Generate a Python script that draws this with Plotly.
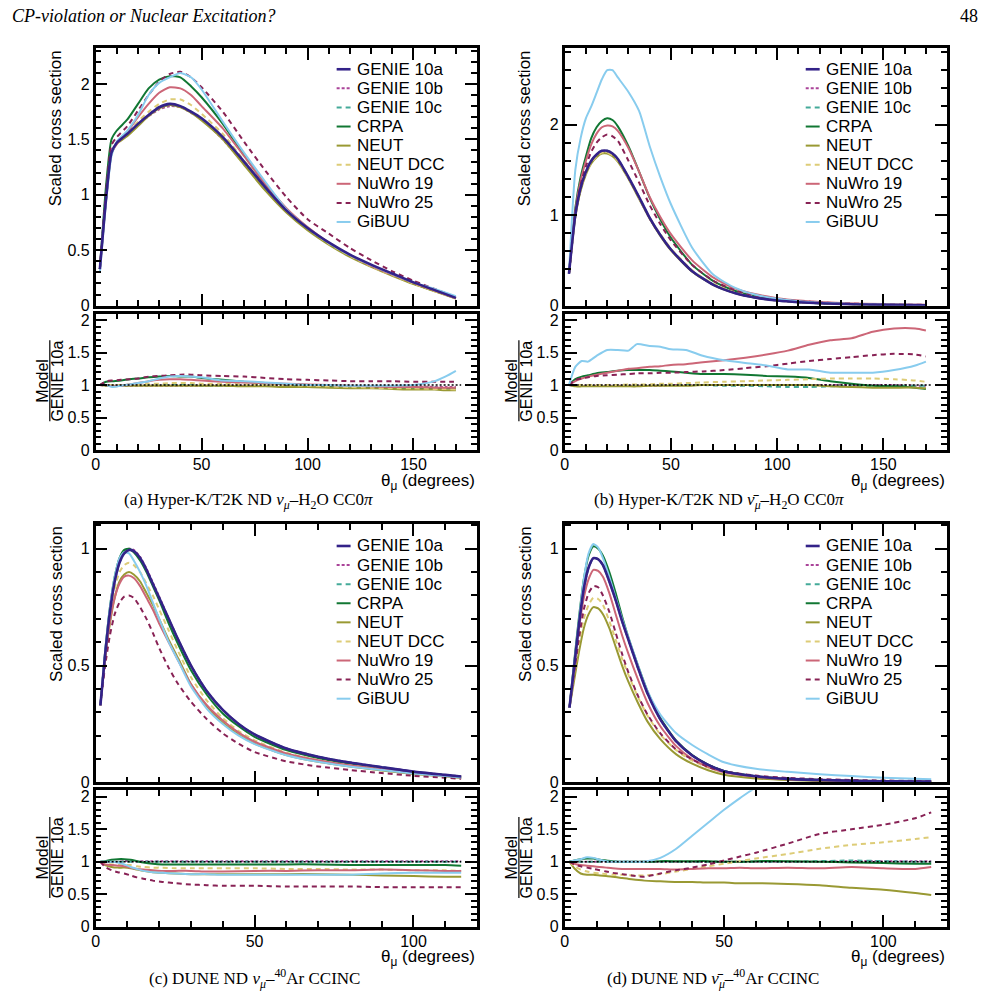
import plotly.graph_objects as go

W, H = 983, 1006

NAMES = ["GENIE 10a", "GENIE 10b", "GENIE 10c", "CRPA", "NEUT", "NEUT DCC", "NuWro 19", "NuWro 25", "GiBUU"]
COLORS = ["#332288", "#AA4499", "#44AA99", "#117733", "#999933", "#DDCC77", "#CC6677", "#882255", "#88CCEE"]
DASHES = ["solid", "3px,2px", "5px,4px", "solid", "solid", "5px,4px", "solid", "5px,4px", "solid"]
WIDTHS = [2.6, 2, 2, 2, 2, 2, 2, 2, 2]

# ---------------- Panel (a): Hyper-K/T2K ND numu H2O CC0pi ----------------
A_X = [2, 5, 7.5, 10, 15, 20, 25, 30, 35, 40, 45, 50, 60, 70, 80, 90, 100, 110, 120, 130, 140, 150, 160, 170]
A_MAIN_GENIE10A = [0.33, 0.98, 1.38, 1.47, 1.55, 1.64, 1.72, 1.79, 1.82, 1.80, 1.75, 1.69, 1.52, 1.30, 1.07, 0.86, 0.70, 0.57, 0.46, 0.37, 0.29, 0.21, 0.14, 0.07]
A_MAIN_GENIE10B = [0.33, 0.97, 1.37, 1.46, 1.54, 1.63, 1.71, 1.77, 1.80, 1.79, 1.74, 1.68, 1.50, 1.28, 1.06, 0.85, 0.69, 0.56, 0.45, 0.36, 0.28, 0.205, 0.135, 0.068]
A_MAIN_GENIE10C = [0.33, 0.98, 1.38, 1.47, 1.55, 1.64, 1.72, 1.79, 1.81, 1.80, 1.75, 1.68, 1.51, 1.29, 1.06, 0.85, 0.69, 0.56, 0.45, 0.36, 0.28, 0.20, 0.135, 0.067]
A_MAIN_CRPA = [0.33, 1.10, 1.50, 1.58, 1.68, 1.82, 1.96, 2.04, 2.07, 2.06, 1.98, 1.88, 1.64, 1.36, 1.10, 0.87, 0.70, 0.565, 0.45, 0.36, 0.28, 0.20, 0.133, 0.066]
A_MAIN_NEUT = [0.33, 0.97, 1.37, 1.46, 1.53, 1.62, 1.71, 1.78, 1.81, 1.79, 1.74, 1.67, 1.50, 1.27, 1.04, 0.84, 0.68, 0.55, 0.44, 0.35, 0.27, 0.195, 0.13, 0.064]
A_MAIN_NEUTDCC = [0.33, 0.97, 1.37, 1.46, 1.55, 1.66, 1.75, 1.82, 1.86, 1.86, 1.81, 1.73, 1.55, 1.31, 1.08, 0.86, 0.70, 0.56, 0.45, 0.355, 0.275, 0.20, 0.13, 0.065]
A_MAIN_NUWRO19 = [0.33, 0.98, 1.38, 1.46, 1.57, 1.70, 1.82, 1.92, 1.97, 1.96, 1.90, 1.80, 1.60, 1.35, 1.10, 0.88, 0.71, 0.57, 0.455, 0.36, 0.28, 0.205, 0.135, 0.067]
A_MAIN_NUWRO25 = [0.33, 1.05, 1.45, 1.52, 1.62, 1.76, 1.90, 2.02, 2.09, 2.11, 2.06, 1.97, 1.75, 1.48, 1.22, 0.98, 0.78, 0.65, 0.52, 0.41, 0.31, 0.225, 0.15, 0.075]
A_MAIN_GIBUU = [0.30, 0.95, 1.35, 1.48, 1.58, 1.72, 1.90, 2.01, 2.06, 2.10, 2.06, 1.95, 1.66, 1.38, 1.12, 0.87, 0.70, 0.565, 0.455, 0.365, 0.285, 0.21, 0.15, 0.085]

A_RX = [2, 5, 8, 12, 16, 20, 25, 30, 35, 40, 45, 50, 60, 70, 80, 90, 100, 110, 120, 130, 140, 150, 160, 165, 170]
A_RATIO_GENIE10B = [1.0, 0.99, 0.99, 0.99, 0.99, 0.99, 0.99, 0.99, 0.99, 0.99, 0.99, 0.99, 0.99, 0.99, 0.99, 0.99, 0.99, 0.99, 0.98, 0.98, 0.98, 0.98, 0.97, 0.97, 0.97]
A_RATIO_GENIE10C = [1.0, 1.0, 1.0, 1.0, 1.0, 1.0, 1.0, 1.0, 1.0, 1.0, 1.0, 0.99, 0.99, 0.99, 0.99, 0.98, 0.98, 0.98, 0.97, 0.97, 0.96, 0.96, 0.96, 0.95, 0.95]
A_RATIO_CRPA = [1.0, 1.05, 1.06, 1.07, 1.09, 1.10, 1.12, 1.13, 1.14, 1.13, 1.13, 1.11, 1.08, 1.05, 1.03, 1.01, 1.0, 0.99, 0.98, 0.97, 0.96, 0.96, 0.95, 0.95, 0.95]
A_RATIO_NEUT = [1.0, 0.99, 0.99, 0.99, 0.99, 0.99, 0.99, 0.99, 0.99, 0.99, 0.99, 0.99, 0.99, 0.98, 0.98, 0.97, 0.97, 0.96, 0.95, 0.95, 0.94, 0.93, 0.93, 0.92, 0.92]
A_RATIO_NEUTDCC = [1.0, 1.0, 1.0, 1.0, 1.01, 1.01, 1.02, 1.02, 1.03, 1.03, 1.03, 1.02, 1.02, 1.01, 1.0, 1.0, 0.99, 0.98, 0.97, 0.96, 0.95, 0.95, 0.94, 0.94, 0.93]
A_RATIO_NUWRO19 = [1.0, 1.0, 0.98, 0.99, 1.01, 1.03, 1.06, 1.08, 1.09, 1.09, 1.08, 1.07, 1.05, 1.04, 1.03, 1.02, 1.01, 1.0, 0.99, 0.98, 0.97, 0.97, 0.96, 0.96, 0.96]
A_RATIO_NUWRO25 = [1.0, 1.06, 1.07, 1.08, 1.09, 1.10, 1.13, 1.14, 1.15, 1.16, 1.16, 1.15, 1.14, 1.13, 1.11, 1.09, 1.08, 1.07, 1.06, 1.06, 1.06, 1.05, 1.05, 1.05, 1.05]
A_RATIO_GIBUU = [1.0, 1.0, 0.97, 0.99, 1.01, 1.03, 1.06, 1.10, 1.13, 1.14, 1.13, 1.12, 1.07, 1.06, 1.04, 1.02, 1.0, 1.0, 0.99, 0.99, 0.99, 1.0, 1.06, 1.13, 1.22]

# ---------------- Panel (b): Hyper-K/T2K ND numubar H2O CC0pi ----------------
B_X = [2, 5, 7.5, 10, 12.5, 15, 17.5, 20, 22.5, 25, 30, 35, 40, 45, 50, 60, 70, 80, 90, 100, 110, 120, 140, 160, 170]
B_MAIN_GENIE10A = [0.35, 1.00, 1.30, 1.48, 1.60, 1.67, 1.71, 1.71, 1.68, 1.62, 1.42, 1.20, 0.97, 0.78, 0.62, 0.38, 0.23, 0.14, 0.088, 0.057, 0.038, 0.026, 0.013, 0.007, 0.005]
B_MAIN_GENIE10B = [0.35, 0.99, 1.29, 1.47, 1.59, 1.66, 1.70, 1.70, 1.67, 1.61, 1.41, 1.19, 0.96, 0.78, 0.62, 0.38, 0.23, 0.14, 0.088, 0.057, 0.038, 0.026, 0.013, 0.007, 0.005]
B_MAIN_GENIE10C = [0.35, 1.00, 1.30, 1.48, 1.60, 1.67, 1.71, 1.71, 1.68, 1.62, 1.42, 1.20, 0.97, 0.78, 0.62, 0.38, 0.23, 0.14, 0.087, 0.056, 0.037, 0.025, 0.013, 0.007, 0.005]
B_MAIN_CRPA = [0.35, 1.08, 1.42, 1.65, 1.85, 1.97, 2.04, 2.07, 2.05, 1.98, 1.76, 1.48, 1.19, 0.95, 0.75, 0.45, 0.27, 0.165, 0.10, 0.065, 0.043, 0.029, 0.013, 0.007, 0.005]
B_MAIN_NEUT = [0.35, 0.98, 1.27, 1.45, 1.57, 1.64, 1.68, 1.68, 1.65, 1.59, 1.40, 1.18, 0.96, 0.77, 0.61, 0.375, 0.228, 0.14, 0.088, 0.057, 0.038, 0.026, 0.0125, 0.0067, 0.0048]
B_MAIN_NEUTDCC = [0.35, 0.99, 1.28, 1.46, 1.58, 1.65, 1.69, 1.69, 1.66, 1.60, 1.41, 1.19, 0.97, 0.79, 0.63, 0.39, 0.24, 0.148, 0.095, 0.062, 0.042, 0.029, 0.014, 0.0077, 0.0053]
B_MAIN_NUWRO19 = [0.35, 1.05, 1.38, 1.60, 1.78, 1.90, 1.97, 1.99, 1.98, 1.93, 1.74, 1.48, 1.20, 0.98, 0.79, 0.50, 0.31, 0.19, 0.125, 0.083, 0.057, 0.041, 0.022, 0.013, 0.009]
B_MAIN_NUWRO25 = [0.35, 1.02, 1.34, 1.54, 1.70, 1.80, 1.86, 1.89, 1.87, 1.82, 1.60, 1.36, 1.11, 0.90, 0.72, 0.45, 0.275, 0.17, 0.11, 0.073, 0.05, 0.035, 0.019, 0.011, 0.008]
B_MAIN_GIBUU = [0.35, 1.50, 1.85, 2.07, 2.20, 2.35, 2.50, 2.60, 2.60, 2.52, 2.36, 2.15, 1.76, 1.42, 1.12, 0.64, 0.34, 0.20, 0.12, 0.075, 0.048, 0.032, 0.016, 0.009, 0.007]

B_RX = [2, 5, 8, 11, 15, 20, 25, 30, 34, 40, 45, 50, 57, 65, 75, 85, 95, 105, 115, 125, 135, 145, 155, 165, 170]
B_RATIO_GENIE10B = [1.0, 0.99, 0.99, 0.99, 0.99, 0.99, 0.99, 0.99, 0.99, 0.99, 0.99, 1.0, 1.0, 1.0, 1.0, 1.0, 1.0, 1.0, 1.0, 1.0, 1.0, 1.0, 1.0, 0.99, 0.99]
B_RATIO_GENIE10C = [1.0, 1.0, 1.0, 1.0, 1.0, 1.0, 1.0, 1.0, 1.0, 1.0, 1.0, 1.0, 1.0, 1.0, 0.99, 0.99, 0.98, 0.97, 0.97, 0.98, 0.98, 0.99, 0.99, 0.99, 0.99]
B_RATIO_CRPA = [1.0, 1.09, 1.13, 1.15, 1.18, 1.20, 1.22, 1.23, 1.23, 1.23, 1.22, 1.21, 1.19, 1.17, 1.17, 1.16, 1.14, 1.13, 1.11, 1.06, 1.02, 0.99, 0.98, 0.96, 0.94]
B_RATIO_NEUT = [1.0, 0.98, 0.98, 0.98, 0.98, 0.98, 0.98, 0.98, 0.98, 0.99, 0.99, 0.99, 0.99, 1.0, 1.0, 1.0, 1.0, 1.0, 1.0, 0.98, 0.97, 0.96, 0.96, 0.96, 0.95]
B_RATIO_NEUTDCC = [1.0, 1.0, 1.0, 1.0, 1.0, 1.0, 1.0, 1.01, 1.01, 1.01, 1.02, 1.02, 1.03, 1.04, 1.05, 1.06, 1.07, 1.08, 1.09, 1.10, 1.10, 1.10, 1.09, 1.07, 1.05]
B_RATIO_NUWRO19 = [1.0, 1.06, 1.10, 1.13, 1.16, 1.19, 1.22, 1.25, 1.26, 1.28, 1.29, 1.31, 1.32, 1.35, 1.38, 1.42, 1.47, 1.53, 1.62, 1.69, 1.72, 1.82, 1.87, 1.87, 1.84]
B_RATIO_NUWRO25 = [1.0, 1.08, 1.10, 1.12, 1.14, 1.15, 1.16, 1.17, 1.18, 1.18, 1.19, 1.19, 1.20, 1.21, 1.23, 1.26, 1.29, 1.33, 1.37, 1.40, 1.43, 1.46, 1.48, 1.47, 1.44]
B_RATIO_GIBUU = [1.0, 1.28, 1.37, 1.36, 1.45, 1.54, 1.54, 1.53, 1.63, 1.60, 1.59, 1.55, 1.54, 1.45, 1.38, 1.34, 1.30, 1.24, 1.24, 1.19, 1.19, 1.19, 1.23, 1.30, 1.36]

# ---------------- Panel (c): DUNE ND numu 40Ar CCINC ----------------
C_X = [1.5, 3, 4.5, 6, 7.5, 9, 10.5, 12, 14, 16, 18, 20, 23, 26, 30, 35, 40, 45, 50, 60, 70, 80, 90, 100, 110, 115]
C_MAIN_GENIE10A = [0.33, 0.55, 0.73, 0.86, 0.94, 0.98, 0.995, 0.99, 0.96, 0.91, 0.85, 0.79, 0.70, 0.61, 0.50, 0.39, 0.31, 0.25, 0.205, 0.145, 0.11, 0.085, 0.065, 0.046, 0.032, 0.025]
C_MAIN_GENIE10B = [0.33, 0.55, 0.73, 0.86, 0.94, 0.985, 1.0, 0.995, 0.965, 0.915, 0.855, 0.795, 0.70, 0.61, 0.50, 0.39, 0.31, 0.25, 0.205, 0.145, 0.11, 0.085, 0.065, 0.046, 0.032, 0.025]
C_MAIN_GENIE10C = [0.33, 0.55, 0.73, 0.86, 0.94, 0.98, 0.995, 0.99, 0.96, 0.91, 0.85, 0.79, 0.70, 0.61, 0.50, 0.39, 0.31, 0.25, 0.205, 0.145, 0.11, 0.085, 0.065, 0.046, 0.032, 0.025]
C_MAIN_CRPA = [0.33, 0.56, 0.75, 0.88, 0.96, 0.995, 1.0, 0.985, 0.95, 0.90, 0.84, 0.78, 0.68, 0.59, 0.48, 0.375, 0.295, 0.24, 0.195, 0.138, 0.104, 0.08, 0.062, 0.044, 0.031, 0.024]
C_MAIN_NEUT = [0.33, 0.53, 0.68, 0.79, 0.86, 0.89, 0.90, 0.89, 0.86, 0.81, 0.76, 0.70, 0.61, 0.53, 0.42, 0.325, 0.255, 0.205, 0.166, 0.117, 0.088, 0.068, 0.051, 0.036, 0.025, 0.019]
C_MAIN_NEUTDCC = [0.33, 0.54, 0.71, 0.83, 0.90, 0.93, 0.94, 0.93, 0.90, 0.85, 0.80, 0.74, 0.65, 0.56, 0.45, 0.35, 0.275, 0.22, 0.18, 0.127, 0.095, 0.073, 0.056, 0.039, 0.027, 0.021]
C_MAIN_NUWRO19 = [0.33, 0.53, 0.69, 0.79, 0.85, 0.88, 0.885, 0.875, 0.84, 0.79, 0.74, 0.68, 0.60, 0.52, 0.42, 0.33, 0.265, 0.213, 0.174, 0.124, 0.095, 0.073, 0.057, 0.040, 0.028, 0.022]
C_MAIN_NUWRO25 = [0.33, 0.50, 0.63, 0.72, 0.77, 0.795, 0.80, 0.79, 0.75, 0.70, 0.64, 0.575, 0.49, 0.42, 0.345, 0.27, 0.21, 0.165, 0.13, 0.09, 0.068, 0.053, 0.04, 0.028, 0.02, 0.015]
C_MAIN_GIBUU = [0.33, 0.56, 0.75, 0.88, 0.96, 0.985, 0.98, 0.95, 0.90, 0.84, 0.77, 0.70, 0.60, 0.52, 0.41, 0.315, 0.25, 0.20, 0.164, 0.116, 0.088, 0.068, 0.053, 0.038, 0.027, 0.021]

C_RX = [1.5, 3, 5, 7, 9, 11, 13, 15, 18, 21, 25, 30, 35, 40, 50, 60, 70, 80, 90, 100, 110, 115]
C_RATIO_GENIE10B = [1.0, 1.0, 1.0, 1.0, 1.01, 1.01, 1.01, 1.01, 1.01, 1.01, 1.01, 1.01, 1.01, 1.01, 1.01, 1.01, 1.01, 1.01, 1.01, 1.01, 1.01, 1.01]
C_RATIO_GENIE10C = [1.0, 1.0, 1.0, 1.0, 1.0, 1.0, 1.0, 1.0, 1.0, 1.0, 1.0, 1.0, 1.0, 1.0, 1.0, 1.0, 1.0, 1.0, 1.0, 1.0, 1.0, 1.0]
C_RATIO_CRPA = [1.0, 1.01, 1.03, 1.04, 1.04, 1.03, 1.01, 0.99, 0.97, 0.96, 0.96, 0.96, 0.96, 0.96, 0.96, 0.96, 0.96, 0.95, 0.95, 0.95, 0.95, 0.94]
C_RATIO_NEUT = [1.0, 0.95, 0.92, 0.91, 0.91, 0.90, 0.88, 0.86, 0.84, 0.83, 0.82, 0.81, 0.81, 0.81, 0.81, 0.81, 0.81, 0.80, 0.79, 0.78, 0.77, 0.77]
C_RATIO_NEUTDCC = [1.0, 0.97, 0.96, 0.95, 0.95, 0.95, 0.93, 0.92, 0.91, 0.91, 0.90, 0.90, 0.90, 0.90, 0.90, 0.89, 0.89, 0.88, 0.88, 0.87, 0.87, 0.86]
C_RATIO_NUWRO19 = [1.0, 0.96, 0.95, 0.94, 0.93, 0.91, 0.89, 0.88, 0.87, 0.86, 0.86, 0.86, 0.85, 0.85, 0.86, 0.86, 0.87, 0.87, 0.88, 0.87, 0.86, 0.86]
C_RATIO_NUWRO25 = [1.0, 0.92, 0.87, 0.84, 0.82, 0.79, 0.76, 0.74, 0.71, 0.69, 0.67, 0.65, 0.64, 0.63, 0.63, 0.62, 0.62, 0.62, 0.61, 0.61, 0.61, 0.61]
C_RATIO_GIBUU = [1.0, 1.0, 1.0, 0.99, 0.96, 0.92, 0.89, 0.86, 0.84, 0.83, 0.82, 0.81, 0.81, 0.80, 0.80, 0.80, 0.80, 0.80, 0.82, 0.83, 0.83, 0.83]

# ---------------- Panel (d): DUNE ND numubar 40Ar CCINC ----------------
D_X = [1.5, 3, 4.5, 6, 7.5, 9, 10.5, 12, 14, 16, 18, 20, 23, 26, 30, 35, 40, 45, 50, 60, 70, 80, 90, 100, 110, 115]
D_MAIN_GENIE10A = [0.32, 0.50, 0.68, 0.83, 0.92, 0.96, 0.955, 0.93, 0.86, 0.78, 0.69, 0.61, 0.49, 0.38, 0.27, 0.175, 0.115, 0.075, 0.048, 0.026, 0.015, 0.010, 0.007, 0.005, 0.004, 0.0035]
D_MAIN_GENIE10B = [0.32, 0.50, 0.68, 0.83, 0.92, 0.96, 0.955, 0.93, 0.86, 0.78, 0.69, 0.61, 0.49, 0.38, 0.27, 0.175, 0.115, 0.075, 0.048, 0.026, 0.015, 0.010, 0.007, 0.005, 0.004, 0.0035]
D_MAIN_GENIE10C = [0.32, 0.50, 0.68, 0.83, 0.92, 0.96, 0.955, 0.93, 0.86, 0.78, 0.69, 0.61, 0.49, 0.38, 0.27, 0.175, 0.115, 0.075, 0.048, 0.026, 0.015, 0.010, 0.007, 0.005, 0.004, 0.0035]
D_MAIN_CRPA = [0.32, 0.52, 0.71, 0.87, 0.97, 1.01, 1.0, 0.97, 0.90, 0.81, 0.71, 0.62, 0.50, 0.39, 0.275, 0.178, 0.117, 0.076, 0.049, 0.026, 0.015, 0.010, 0.007, 0.005, 0.004, 0.0034]
D_MAIN_NEUT = [0.32, 0.44, 0.56, 0.66, 0.72, 0.75, 0.745, 0.72, 0.66, 0.58, 0.50, 0.43, 0.34, 0.26, 0.185, 0.12, 0.08, 0.052, 0.033, 0.017, 0.010, 0.0064, 0.0042, 0.0029, 0.0021, 0.0017]
D_MAIN_NEUTDCC = [0.32, 0.46, 0.60, 0.70, 0.76, 0.79, 0.785, 0.76, 0.69, 0.61, 0.53, 0.46, 0.365, 0.285, 0.205, 0.138, 0.093, 0.063, 0.045, 0.025, 0.016, 0.011, 0.008, 0.006, 0.005, 0.0048]
D_MAIN_NUWRO19 = [0.32, 0.49, 0.66, 0.79, 0.87, 0.91, 0.905, 0.88, 0.81, 0.72, 0.63, 0.55, 0.44, 0.34, 0.24, 0.155, 0.10, 0.067, 0.043, 0.024, 0.0135, 0.009, 0.0063, 0.0045, 0.0036, 0.0032]
D_MAIN_NUWRO25 = [0.32, 0.47, 0.62, 0.74, 0.81, 0.84, 0.835, 0.80, 0.73, 0.64, 0.55, 0.47, 0.37, 0.29, 0.21, 0.14, 0.098, 0.066, 0.047, 0.029, 0.019, 0.014, 0.0105, 0.0078, 0.0066, 0.0062]
D_MAIN_GIBUU = [0.32, 0.51, 0.70, 0.87, 0.98, 1.02, 1.005, 0.96, 0.88, 0.79, 0.70, 0.62, 0.50, 0.39, 0.29, 0.21, 0.16, 0.12, 0.086, 0.058, 0.045, 0.035, 0.027, 0.02, 0.015, 0.013]

D_RX = [1.5, 3, 5, 7, 9, 11, 13, 15, 18, 21, 25, 30, 35, 40, 45, 50, 55, 60, 70, 80, 90, 100, 110, 115]
D_RATIO_GENIE10B = [1.0, 1.0, 1.0, 1.0, 1.0, 1.0, 1.0, 1.0, 1.0, 1.0, 1.0, 1.0, 1.0, 1.0, 1.0, 1.0, 1.0, 1.0, 1.0, 1.0, 1.01, 1.01, 1.01, 1.01]
D_RATIO_GENIE10C = [1.0, 1.0, 1.0, 1.0, 1.0, 1.0, 1.0, 1.0, 1.0, 1.0, 1.0, 1.0, 1.0, 1.0, 1.0, 1.0, 1.0, 1.0, 1.0, 1.01, 1.02, 1.01, 1.0, 1.0]
D_RATIO_CRPA = [1.0, 1.02, 1.04, 1.05, 1.05, 1.03, 1.02, 1.01, 1.0, 1.0, 1.0, 1.01, 1.01, 1.01, 1.01, 1.0, 1.0, 1.01, 1.01, 1.0, 0.99, 0.98, 0.97, 0.97]
D_RATIO_NEUT = [1.0, 0.90, 0.82, 0.80, 0.80, 0.79, 0.78, 0.77, 0.75, 0.73, 0.71, 0.70, 0.69, 0.69, 0.68, 0.68, 0.67, 0.67, 0.66, 0.64, 0.60, 0.57, 0.52, 0.49]
D_RATIO_NEUTDCC = [1.0, 0.93, 0.88, 0.85, 0.83, 0.82, 0.81, 0.80, 0.80, 0.79, 0.79, 0.81, 0.85, 0.89, 0.93, 0.97, 1.01, 1.05, 1.12, 1.20, 1.26, 1.30, 1.35, 1.38]
D_RATIO_NUWRO19 = [1.0, 0.97, 0.95, 0.94, 0.93, 0.92, 0.91, 0.90, 0.89, 0.89, 0.89, 0.89, 0.88, 0.89, 0.90, 0.90, 0.91, 0.90, 0.91, 0.90, 0.92, 0.90, 0.89, 0.92]
D_RATIO_NUWRO25 = [1.0, 0.96, 0.93, 0.91, 0.89, 0.87, 0.85, 0.83, 0.81, 0.79, 0.77, 0.82, 0.87, 0.91, 0.96, 1.02, 1.08, 1.14, 1.28, 1.43, 1.50, 1.57, 1.67, 1.76]
D_RATIO_GIBUU = [1.0, 1.02, 1.04, 1.07, 1.06, 1.03, 1.01, 1.0, 1.0, 1.0, 1.0, 1.06, 1.2, 1.4, 1.6, 1.8, 1.98, 2.15, 2.5, 2.9, 3.3, 3.7, 4.0, 4.2]

CAPTIONS = [
    "(a) Hyper-K/T2K ND <i>ν<sub>μ</sub></i>–H<sub>2</sub>O CC0<i>π</i>",
    "(b) Hyper-K/T2K ND <i>ν̄<sub>μ</sub></i>–H<sub>2</sub>O CC0<i>π</i>",
    "(c) DUNE ND <i>ν<sub>μ</sub></i>–<sup>40</sup>Ar CCINC",
    "(d) DUNE ND <i>ν̄<sub>μ</sub></i>–<sup>40</sup>Ar CCINC",
]

A_MAIN = [A_MAIN_GENIE10A, A_MAIN_GENIE10B, A_MAIN_GENIE10C, A_MAIN_CRPA, A_MAIN_NEUT, A_MAIN_NEUTDCC, A_MAIN_NUWRO19, A_MAIN_NUWRO25, A_MAIN_GIBUU]
B_MAIN = [B_MAIN_GENIE10A, B_MAIN_GENIE10B, B_MAIN_GENIE10C, B_MAIN_CRPA, B_MAIN_NEUT, B_MAIN_NEUTDCC, B_MAIN_NUWRO19, B_MAIN_NUWRO25, B_MAIN_GIBUU]
C_MAIN = [C_MAIN_GENIE10A, C_MAIN_GENIE10B, C_MAIN_GENIE10C, C_MAIN_CRPA, C_MAIN_NEUT, C_MAIN_NEUTDCC, C_MAIN_NUWRO19, C_MAIN_NUWRO25, C_MAIN_GIBUU]
D_MAIN = [D_MAIN_GENIE10A, D_MAIN_GENIE10B, D_MAIN_GENIE10C, D_MAIN_CRPA, D_MAIN_NEUT, D_MAIN_NEUTDCC, D_MAIN_NUWRO19, D_MAIN_NUWRO25, D_MAIN_GIBUU]
A_RATIO = [None, A_RATIO_GENIE10B, A_RATIO_GENIE10C, A_RATIO_CRPA, A_RATIO_NEUT, A_RATIO_NEUTDCC, A_RATIO_NUWRO19, A_RATIO_NUWRO25, A_RATIO_GIBUU]
B_RATIO = [None, B_RATIO_GENIE10B, B_RATIO_GENIE10C, B_RATIO_CRPA, B_RATIO_NEUT, B_RATIO_NEUTDCC, B_RATIO_NUWRO19, B_RATIO_NUWRO25, B_RATIO_GIBUU]
C_RATIO = [None, C_RATIO_GENIE10B, C_RATIO_GENIE10C, C_RATIO_CRPA, C_RATIO_NEUT, C_RATIO_NEUTDCC, C_RATIO_NUWRO19, C_RATIO_NUWRO25, C_RATIO_GIBUU]
D_RATIO = [None, D_RATIO_GENIE10B, D_RATIO_GENIE10C, D_RATIO_CRPA, D_RATIO_NEUT, D_RATIO_NEUTDCC, D_RATIO_NUWRO19, D_RATIO_NUWRO25, D_RATIO_GIBUU]

# ---------------- layout helpers (pixel geometry) ----------------
SANS = "Liberation Sans, Arial, Helvetica, sans-serif"
SERIF = "Liberation Serif, Times New Roman, serif"


def fx(px):
    return px / W


def fy(py):
    return 1 - py / H


PANELS = [
    dict(n=1, left=92, right=475, mtop=47, mbot=307, rtop=315, rbot=453, xmax=180, ymax=2.32, ydt=0.5, ymin=0.1,
         x=A_X, main=A_MAIN, rx=A_RX, ratio=A_RATIO, refend=172.5, leg_x=334, leg_y=68, cap_x=245),
    dict(n=3, left=563, right=947, mtop=47, mbot=307, rtop=315, rbot=453, xmax=180, ymax=2.84, ydt=1, ymin=0.2,
         x=B_X, main=B_MAIN, rx=B_RX, ratio=B_RATIO, refend=172.5, leg_x=805, leg_y=68, cap_x=718),
    dict(n=5, left=92, right=475, mtop=528, mbot=789, rtop=797, rbot=935, xmax=120, ymax=1.105, ydt=0.5, ymin=0.1,
         x=C_X, main=C_MAIN, rx=C_RX, ratio=C_RATIO, refend=115, leg_x=334, leg_y=550, cap_x=252),
    dict(n=7, left=563, right=947, mtop=528, mbot=789, rtop=797, rbot=935, xmax=120, ymax=1.105, ydt=0.5, ymin=0.1,
         x=D_X, main=D_MAIN, rx=D_RX, ratio=D_RATIO, refend=115, leg_x=805, leg_y=550, cap_x=712),
]


def axis_common(rng, dtick, minor_dtick, showlabels, domain, anchor, standoff=None):
    d = dict(
        domain=domain, range=rng, anchor=anchor, dtick=dtick, tick0=0,
        ticks="inside", ticklen=12, tickwidth=1.8, tickcolor="black",
        minor=dict(ticks="inside", ticklen=6, dtick=minor_dtick, tickwidth=1.5, tickcolor="black", showgrid=False),
        mirror="allticks", showline=True, linewidth=2.6, linecolor="black",
        showgrid=False, zeroline=False, showticklabels=showlabels,
        tickfont=dict(family=SANS, size=16, color="black"), fixedrange=True,
    )
    if standoff is not None:
        d["ticklabelstandoff"] = standoff
    return d


fig = go.Figure()
layout = dict(width=W, height=H, margin=dict(l=0, r=0, t=0, b=0), paper_bgcolor="white", plot_bgcolor="white",
              showlegend=False)
shapes = []
annotations = []

order = [1, 2, 3, 4, 5, 6, 7, 8, 0]

for p in PANELS:
    nm, nr = p["n"], p["n"] + 1
    xm = "x" if nm == 1 else f"x{nm}"
    ym = "y" if nm == 1 else f"y{nm}"
    xr, yr = f"x{nr}", f"y{nr}"
    xdom = [fx(p["left"]), fx(p["right"])]
    layout["xaxis" if nm == 1 else f"xaxis{nm}"] = axis_common([0, p["xmax"]], 50, 10, False, xdom, ym)
    layout["yaxis" if nm == 1 else f"yaxis{nm}"] = axis_common([0, p["ymax"]], p["ydt"], p["ymin"], True,
                                                              [fy(p["mbot"]), fy(p["mtop"])], xm)
    layout[f"xaxis{nr}"] = axis_common([0, p["xmax"]], 50, 10, True, xdom, yr, standoff=-2)
    layout[f"yaxis{nr}"] = axis_common([0, 2.1], 0.5, 0.1, True, [fy(p["rbot"]), fy(p["rtop"])], xr)

    for i in order:
        fig.add_trace(go.Scatter(
            x=p["x"], y=p["main"][i], mode="lines", name=NAMES[i], xaxis=xm, yaxis=ym,
            line=dict(color=COLORS[i], width=WIDTHS[i], dash=DASHES[i], shape="spline", smoothing=0.6),
            hoverinfo="skip"))
    for i in order:
        if p["ratio"][i] is None:
            continue
        fig.add_trace(go.Scatter(
            x=p["rx"], y=p["ratio"][i], mode="lines", name=NAMES[i], xaxis=xr, yaxis=yr,
            line=dict(color=COLORS[i], width=WIDTHS[i], dash=DASHES[i], shape="spline", smoothing=0.6),
            hoverinfo="skip"))
    # unity reference line in ratio panel
    shapes.append(dict(type="line", xref=xr, yref=yr, x0=0, x1=p["refend"], y0=1, y1=1,
                       line=dict(color="black", width=1.5, dash="2px,2px"), layer="above"))

    # custom legend
    for k, name in enumerate(NAMES):
        yy = p["leg_y"] + k * 19.3
        shapes.append(dict(type="line", xref="paper", yref="paper", x0=fx(p["leg_x"]), x1=fx(p["leg_x"] + 14),
                           y0=fy(yy), y1=fy(yy), line=dict(color=COLORS[k], width=WIDTHS[k], dash=DASHES[k])))
        annotations.append(dict(text=name, x=fx(p["leg_x"] + 18), y=fy(yy), xref="paper", yref="paper",
                                xanchor="left", yanchor="middle", showarrow=False,
                                font=dict(family=SANS, size=17, color="black")))

    # main y title
    annotations.append(dict(text="Scaled cross section", textangle=-90, x=fx(p["left"] - 40), y=fy(p["mtop"]),
                            xref="paper", yref="paper", xanchor="center", yanchor="top", showarrow=False,
                            font=dict(family=SANS, size=17, color="black")))
    # ratio y title (fraction)
    rc = p["rtop"] + 68
    annotations.append(dict(text="Model", textangle=-90, x=fx(p["left"] - 53), y=fy(rc),
                            xref="paper", yref="paper", xanchor="center", yanchor="middle", showarrow=False,
                            font=dict(family=SANS, size=16, color="black")))
    annotations.append(dict(text="GENIE 10a", textangle=-90, x=fx(p["left"] - 38), y=fy(rc),
                            xref="paper", yref="paper", xanchor="center", yanchor="middle", showarrow=False,
                            font=dict(family=SANS, size=16, color="black")))
    shapes.append(dict(type="line", xref="paper", yref="paper", x0=fx(p["left"] - 46), x1=fx(p["left"] - 46),
                       y0=fy(rc - 41), y1=fy(rc + 41), line=dict(color="black", width=1.2)))
    # x title
    annotations.append(dict(text="θ<sub>μ</sub> (degrees)", x=fx(p["right"]), y=fy(p["rbot"] + 32),
                            xref="paper", yref="paper", xanchor="right", yanchor="middle", showarrow=False,
                            font=dict(family=SANS, size=17, color="black")))
    # caption
    annotations.append(dict(text=CAPTIONS[(p["n"] - 1) // 2], x=fx(p["cap_x"]), y=fy(p["rbot"] + 52),
                            xref="paper", yref="paper", xanchor="center", yanchor="middle", showarrow=False,
                            font=dict(family=SERIF, size=17, color="black")))

annotations.append(dict(text="<i>CP-violation or Nuclear Excitation?</i>", x=fx(6), y=fy(14), xref="paper",
                        yref="paper", xanchor="left", yanchor="middle", showarrow=False,
                        font=dict(family=SERIF, size=18, color="black")))
annotations.append(dict(text="48", x=fx(980), y=fy(14), xref="paper", yref="paper", xanchor="right",
                        yanchor="middle", showarrow=False, font=dict(family=SERIF, size=18, color="black")))

layout["shapes"] = shapes
layout["annotations"] = annotations
fig.update_layout(**layout)
fig.write_html("out.html")
